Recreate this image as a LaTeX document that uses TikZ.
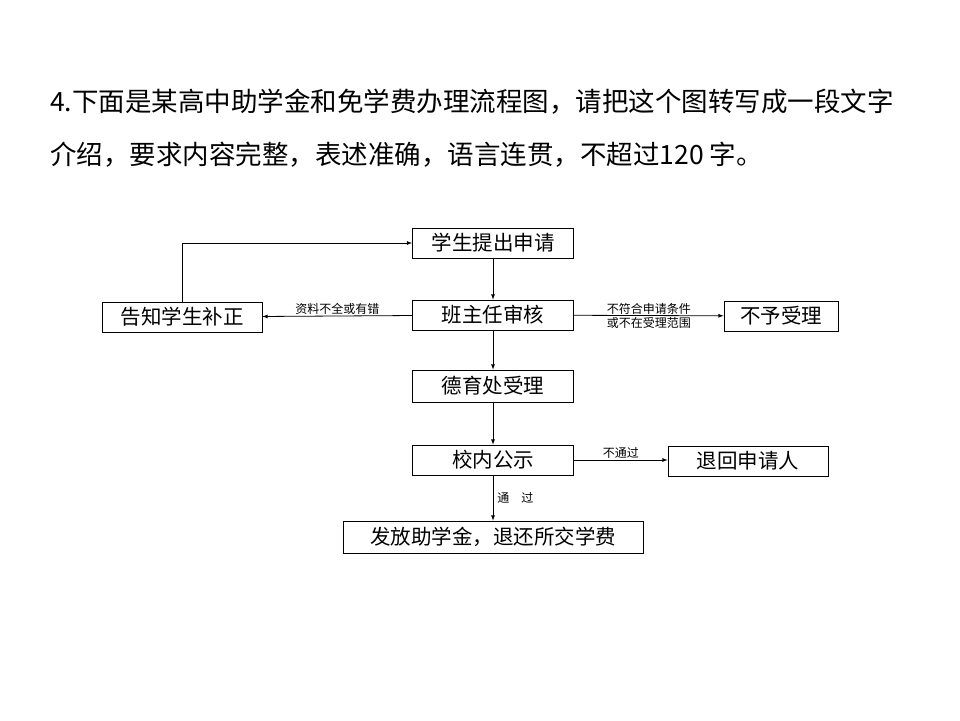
\documentclass[tikz,border=0pt]{standalone}
\usepackage{fontspec}
\usepackage{tikz}
\usetikzlibrary{positioning}
\setmainfont{Liberation Sans}
\newfontfamily\cjk{Noto Sans CJK SC}
\tikzset{
  stepbox/.style={draw, thick, minimum height=30pt, inner sep=0pt, font=\cjk\fontsize{20.5}{20.5}\selectfont},
  flow/.style={->, >=latex, thick},
  lbl/.style={font=\cjk\fontsize{12}{12}\selectfont, inner sep=1pt}
}
\begin{document}
\begin{tikzpicture}[x=1pt, y=-1pt]
  \useasboundingbox (0,0) rectangle (960,720);
  % question text
  \node[anchor=west, inner sep=0pt, font=\cjk\fontsize{26.5}{26.5}\selectfont] (q1) at (50,102) {4.下面是某高中助学金和免学费办理流程图，请把这个图转写成一段文字};
  \node[anchor=west, inner sep=0pt, font=\cjk\fontsize{26.5}{26.5}\selectfont] (q2) at (50,155) {介绍，要求内容完整，表述准确，语言连贯，不超过120 字。};

  % boxes
  \node[stepbox, minimum width=161pt] (apply) at (493,243) {学生提出申请};
  \node[stepbox, minimum width=161pt] (check) at (493,315) {班主任审核};
  \node[stepbox, minimum width=160pt] (fix) at (182,317) {告知学生补正};
  \node[stepbox, minimum width=114pt] (reject) at (781,316) {不予受理};
  \node[stepbox, minimum width=161pt, minimum height=32pt] (office) at (493,386) {德育处受理};
  \node[stepbox, minimum width=161pt] (public) at (493,460) {校内公示};
  \node[stepbox, minimum width=160pt] (back) at (748,461) {退回申请人};
  \node[stepbox, minimum width=300pt, minimum height=32pt] (grant) at (493,537) {发放助学金，退还所交学费};

  % connectors
  \draw[flow] (apply) -- (check);
  \draw[flow] (check) -- node[lbl, above] {资料不全或有错} (fix);
  \draw[flow] (fix.north) |- (apply.west);
  \draw[flow] (check) -- node[lbl, above] {不符合申请条件} node[lbl, below] {或不在受理范围} (reject);
  \draw[flow] (check) -- (office);
  \draw[flow] (office) -- (public);
  \draw[flow] (public.east) -- node[lbl, above] {不通过} (back.west |- public.east);
  \draw[flow] (public) -- node[lbl, right=3pt] {通\quad 过} (grant);
\end{tikzpicture}
\end{document}
